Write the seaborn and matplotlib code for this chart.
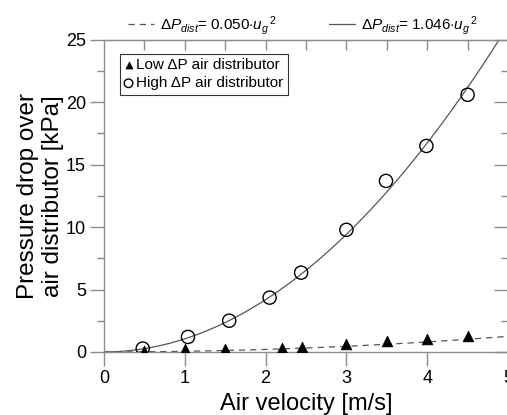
import numpy as np
import pandas as pd
import matplotlib
matplotlib.use('Agg')
import matplotlib.pyplot as plt
import seaborn as sns

# measured points
u_low = [0.5, 1.0, 1.5, 2.2, 2.45, 3.0, 3.5, 4.0, 4.5]
dp_low = [0.1, 0.2, 0.2, 0.35, 0.4, 0.67, 0.86, 1.05, 1.26]
u_high = [0.48, 1.04, 1.55, 2.05, 2.44, 3.0, 3.49, 3.99, 4.5]
dp_high = [0.27, 1.2, 2.5, 4.35, 6.35, 9.78, 13.7, 16.5, 20.6]

# fitted coefficients, dP = k * u^2
k_low = 0.050
k_high = 1.046

sns.set_style('ticks')
plt.rcParams['font.family'] = ['Liberation Sans', 'DejaVu Sans']
plt.rcParams['mathtext.fontset'] = 'custom'
plt.rcParams['mathtext.rm'] = 'Liberation Sans'
plt.rcParams['mathtext.it'] = 'Liberation Sans:italic'
plt.rcParams['text.color'] = 'black'
plt.rcParams['axes.labelcolor'] = 'black'

fig = plt.figure(figsize=(5.07, 4.15), dpi=100)
ax = fig.add_axes([0.205, 0.152, 0.797, 0.752])

u_fit = np.linspace(0, 5, 200)
fit = pd.DataFrame({'u': u_fit, 'low': k_low * u_fit**2, 'high': k_high * u_fit**2})

lbl_low = r'$\Delta P_{dist}$= 0.050$\cdot u_g{}^{\,2}$'
lbl_high = r'$\Delta P_{dist}$= 1.046$\cdot u_g{}^{\,2}$'
sns.lineplot(data=fit, x='u', y='low', ax=ax, color='#555555', lw=0.9,
             linestyle=(0, (5, 4)), label=lbl_low)
sns.lineplot(data=fit, x='u', y='high', ax=ax, color='#555555', lw=0.9,
             label=lbl_high)

sns.scatterplot(x=u_low, y=dp_low, ax=ax, marker='^', s=60, color='black',
                edgecolor='black', linewidth=0.5, label='Low \u0394P air distributor', zorder=3)
sns.scatterplot(x=u_high, y=dp_high, ax=ax, marker='o', s=90, facecolor='none',
                edgecolor='black', linewidth=1.0, label='High \u0394P air distributor', zorder=3)

ax.set_xlim(0, 5)
ax.set_ylim(0, 25)
ax.set_xticks([0, 1, 2, 3, 4, 5])
ax.set_yticks([0, 5, 10, 15, 20, 25])
ax.set_yticks(np.arange(2.5, 25, 5), minor=True)

spine_c = '#8c8c8c'
for s in ax.spines.values():
    s.set_color(spine_c)
    s.set_linewidth(1.0)
ax.tick_params(axis='both', which='major', direction='out', length=10, width=1.0,
               color=spine_c, labelcolor='black', labelsize=13, pad=3)
ax.tick_params(axis='y', which='minor', direction='out', length=5, width=1.0, color=spine_c)

top = ax.secondary_xaxis('top')
top.set_xticks(np.arange(0.5, 5.0, 0.5))
top.tick_params(direction='in', length=7, width=1.0, color=spine_c, labeltop=False)
top.spines['top'].set_color(spine_c)
right = ax.secondary_yaxis('right')
right.set_yticks([0, 5, 10, 15, 20, 25])
right.set_yticks(np.arange(2.5, 25, 5), minor=True)
right.tick_params(which='major', direction='in', length=10, width=1.0, color=spine_c, labelright=False)
right.tick_params(which='minor', direction='in', length=5, width=1.0, color=spine_c)

ax.set_xlabel('Air velocity [m/s]', fontsize=17, labelpad=4)
ax.set_ylabel('Pressure drop over\nair distributor [kPa]', fontsize=17.5, labelpad=1)

handles, labels = ax.get_legend_handles_labels()
leg = ax.legend(handles[2:], labels[2:], loc='upper left', bbox_to_anchor=(0.04, 0.955),
                fontsize=11, frameon=True, fancybox=False, handlelength=0.5, markerscale=0.65,
                handletextpad=0.25, borderpad=0.3, labelspacing=0.25, borderaxespad=0)
leg.get_frame().set_edgecolor('black')
leg.get_frame().set_linewidth(0.8)

fig.legend(handles[:2], labels[:2], loc='upper left', bbox_to_anchor=(0.225, 1.0),
           ncol=2, frameon=False, fontsize=11, handlelength=1.7, handletextpad=0.4,
           columnspacing=3.4)

fig.savefig('out.png', dpi=100)
